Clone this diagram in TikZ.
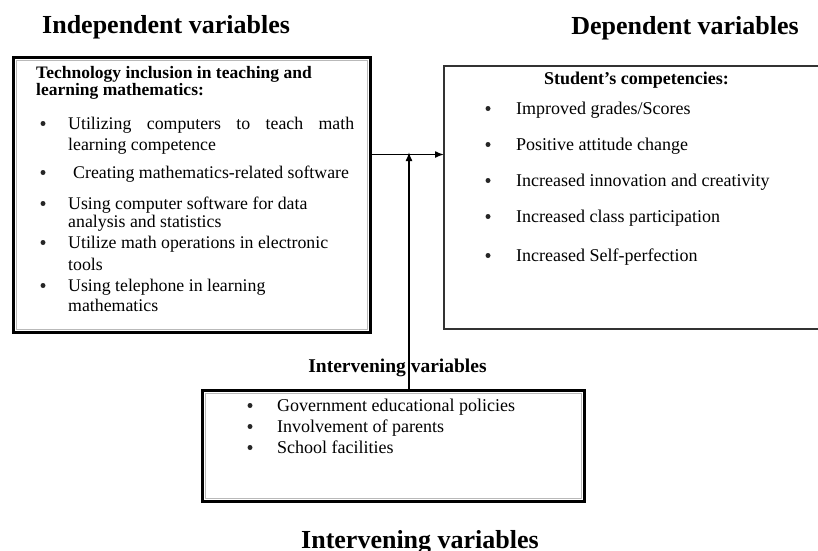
\documentclass[tikz,border=0pt]{standalone}
\usepackage{fontspec}
\setmainfont{Liberation Serif}
\usetikzlibrary{arrows.meta}
\begin{document}
\begin{tikzpicture}[x=1pt,y=-1pt,
  thickbox/.style={draw, line width=3pt, inner sep=0pt, outer sep=0pt, anchor=north west},
  thinbox/.style={draw=black!80, line width=1.2pt, inner sep=0pt, outer sep=0pt, anchor=north west},
  innerline/.style={draw=gray!55, line width=0.7pt},
  title/.style={inner sep=0pt, font=\fontsize{26}{30}\selectfont\bfseries},
  lhead/.style={anchor=base west, inner sep=0pt, font=\fontsize{17.5}{20}\selectfont\bfseries},
  ltxt/.style={anchor=base west, inner sep=0pt, font=\fontsize{17.8}{20}\selectfont},
  rtxt/.style={anchor=base west, inner sep=0pt, font=\fontsize{18}{20}\selectfont},
  btxt/.style={anchor=base west, inner sep=0pt, font=\fontsize{18}{20}\selectfont},
  bul/.style={circle, fill=black!85, inner sep=0pt, minimum size=5pt, yshift=5.5pt},
  conn/.style={line width=1.5pt, -{Latex[length=9pt,width=7pt]}}
]
\useasboundingbox (0,0) rectangle (818,550);

% titles
\node[title, anchor=base west] (tind) at (42,33) {Independent variables};
\node[title, anchor=base east] (tdep) at (799,34.5) {Dependent variables};

% left box
\node[thickbox, minimum width=357pt, minimum height=275pt] (lbox) at (13.5,57.5) {};
\draw[innerline] ([shift={(3pt,-3pt)}]lbox.north west) rectangle ([shift={(-3pt,3pt)}]lbox.south east);
\node[lhead] (lh1) at (36,78) {Technology inclusion in teaching and};
\node[lhead] (lh2) at (36,95) {learning mathematics:};
\node[bul] (lb1) at (43,129) {};
\node[ltxt] (l1a) at (68,129) {\hbox to 286pt{Utilizing\hfill computers\hfill to\hfill teach\hfill math}};
\node[ltxt] (l1b) at (68,150) {learning competence};
\node[bul] (lb2) at (43,178) {};
\node[ltxt] (l2a) at (73,178) {Creating mathematics-related software};
\node[bul] (lb3) at (43,209) {};
\node[ltxt] (l3a) at (68,209) {Using computer software for data};
\node[ltxt] (l3b) at (68,227) {analysis and statistics};
\node[bul] (lb4) at (43,248) {};
\node[ltxt] (l4a) at (68,248) {Utilize math operations in electronic};
\node[ltxt] (l4b) at (68,270) {tools};
\node[bul] (lb5) at (43,291) {};
\node[ltxt] (l5a) at (68,291) {Using telephone in learning};
\node[ltxt] (l5b) at (68,311) {mathematics};

% right box
\node[thinbox, minimum width=380pt, minimum height=263pt] (rbox) at (444,66) {};
\node[lhead, anchor=base, font=\fontsize{18}{20}\selectfont\bfseries] (rh) at (636.5,84) {Student’s competencies:};
\node[bul] (rb1) at (488,114) {};
\node[rtxt] (r1) at (516,114) {Improved grades/Scores};
\node[bul] (rb2) at (488,150) {};
\node[rtxt] (r2) at (516,150) {Positive attitude change};
\node[bul] (rb3) at (488,186) {};
\node[rtxt] (r3) at (516,186) {Increased innovation and creativity};
\node[bul] (rb4) at (488,222) {};
\node[rtxt] (r4) at (516,222) {Increased class participation};
\node[bul] (rb5) at (488,261) {};
\node[rtxt] (r5) at (516,261) {Increased Self-perfection};

% bottom box
\node[thickbox, minimum width=381.5pt, minimum height=111pt] (bbox) at (202.5,390.5) {};
\draw[innerline] ([shift={(3pt,-3pt)}]bbox.north west) rectangle ([shift={(-3pt,3pt)}]bbox.south east);
\node[bul] (bb1) at (250,411) {};
\node[btxt] (b1) at (277,411) {Government educational policies};
\node[bul] (bb2) at (250,432) {};
\node[btxt] (b2) at (277,432) {Involvement of parents};
\node[bul] (bb3) at (250,453) {};
\node[btxt] (b3) at (277,453) {School facilities};

% labels
\node[inner sep=0pt, anchor=base, font=\fontsize{19.5}{22}\selectfont\bfseries] (ivs) at (397.5,372) {Intervening variables};
\node[title, anchor=base] (ivb) at (420,548) {Intervening variables};

% connectors
\coordinate (j) at (409,154.5);
\draw[conn] (lbox.east |- j) -- (rbox.west |- j);
\draw[conn] (bbox.north -| j) -- ([yshift=2.5pt]j);
\end{tikzpicture}
\end{document}
